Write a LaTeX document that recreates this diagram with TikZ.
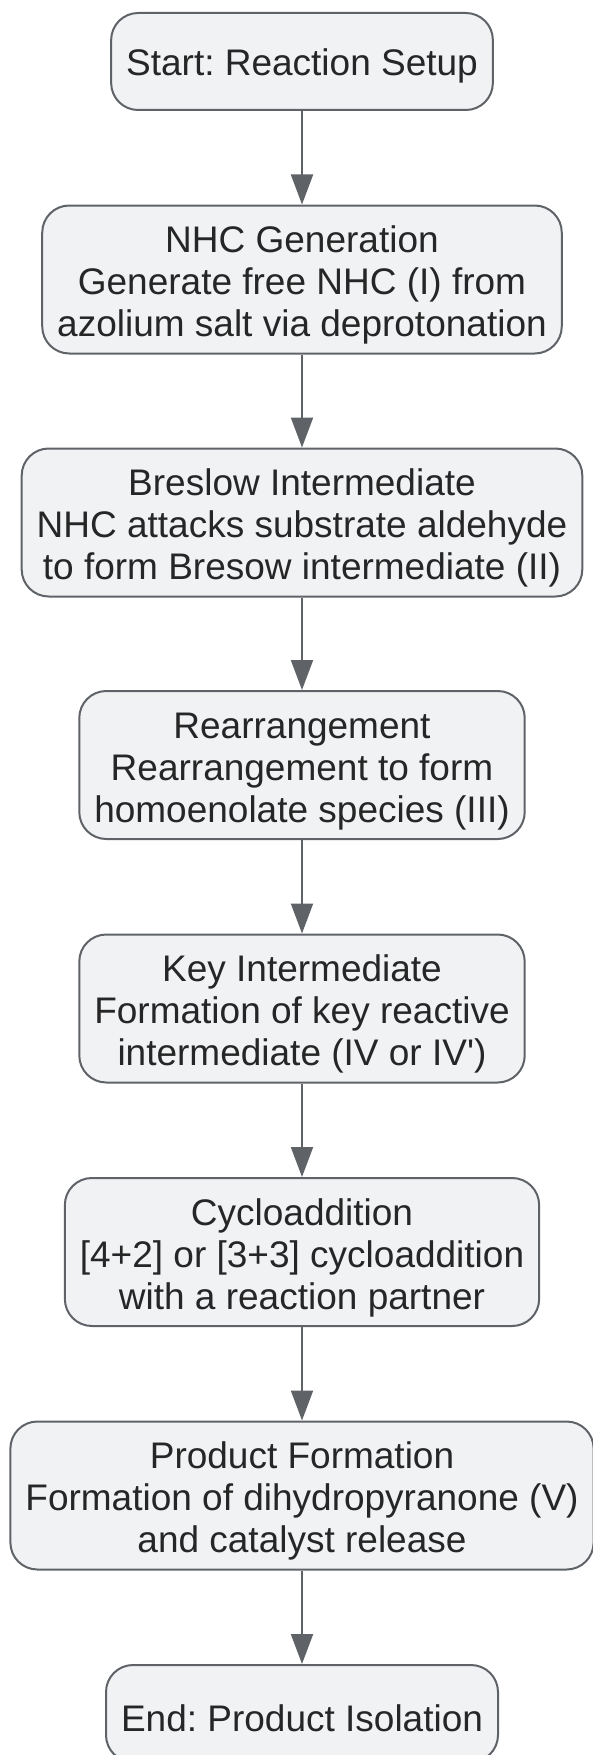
\documentclass[tikz,border=0pt]{standalone}
\usepackage{fontspec}
\setmainfont{Liberation Sans}
\usetikzlibrary{arrows.meta}
\definecolor{boxfill}{HTML}{F1F2F4}
\definecolor{boxline}{HTML}{5F6368}
\definecolor{txt}{HTML}{262626}

\begin{document}
\begin{tikzpicture}[x=1pt, y=1pt,
  box/.style = {draw=boxline, fill=boxfill, line width=2pt, rounded corners=27pt,
    align=center, text=txt, inner xsep=15pt, inner ysep=4pt,
    font=\fontsize{37}{42}\selectfont\frenchspacing},
  onebox/.style = {box, minimum height=97pt, text height=36pt},
  threebox/.style = {box, minimum height=148pt, text height=122pt},
  flow/.style = {draw=boxline, line width=2pt, -{Triangle[width=22pt,length=30pt]}}]
\useasboundingbox (0,0) rectangle (593,-1755);

\node[onebox] (start) at (302,-61.5) {Start: Reaction Setup};
\node[threebox] (nhc) at (302,-279.5) {NHC Generation\\Generate free NHC (I) from\\azolium salt via deprotonation};
\node[threebox] (breslow) at (302,-522.5) {Breslow Intermediate\\NHC attacks substrate aldehyde\\to form Bresow intermediate (II)};
\node[threebox] (rearr) at (302,-765) {Rearrangement\\Rearrangement to form\\homoenolate species (III)};
\node[threebox] (key) at (302,-1008.5) {Key Intermediate\\Formation of key reactive\\intermediate (IV or IV\textquotesingle)};
\node[threebox] (cyclo) at (302,-1252) {Cycloaddition\\{[4+2]} or [3+3] cycloaddition\\with a reaction partner};
\node[threebox] (product) at (302,-1495.5) {Product Formation\\Formation of dihydropyranone (V)\\and catalyst release};
\node[onebox] (end) at (302,-1713.5) {End: Product Isolation};

\draw[flow] (start) -- (nhc);
\draw[flow] (nhc) -- (breslow);
\draw[flow] (breslow) -- (rearr);
\draw[flow] (rearr) -- (key);
\draw[flow] (key) -- (cyclo);
\draw[flow] (cyclo) -- (product);
\draw[flow] (product) -- (end);
\end{tikzpicture}
\end{document}
